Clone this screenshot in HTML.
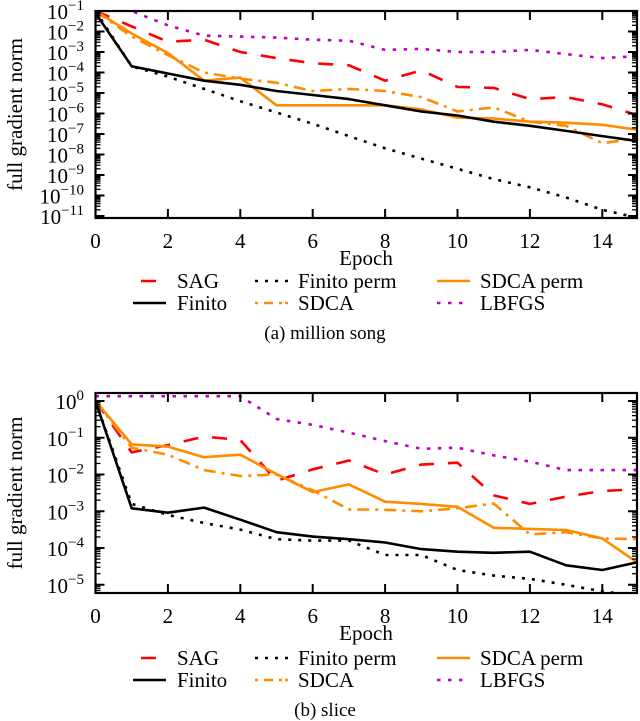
<!DOCTYPE html>
<html><head><meta charset="utf-8"><style>
html,body{margin:0;padding:0;background:#fff;}
svg{display:block;font-family:"Liberation Serif",serif;}
</style></head><body>
<svg id="s" width="640" height="721" viewBox="0 0 640 721" xmlns="http://www.w3.org/2000/svg"></svg>
<script>
const epochs=[0,1,2,3,4,5,6,7,8,9,10,11,12,13,14,15];
const xTicks=[0,2,4,6,8,10,12,14];
// chart (a) million song, values are log10(norm)
const aSAG=[-1.0,-1.75,-2.5,-2.4,-3.0,-3.3,-3.55,-3.65,-4.4,-3.9,-4.7,-4.75,-5.3,-5.2,-5.55,-6.1];
const aFinito=[-1.1,-3.7,-4.05,-4.4,-4.6,-4.9,-5.1,-5.3,-5.6,-5.9,-6.1,-6.4,-6.6,-6.85,-7.1,-7.35];
const aFinitoPerm=[-1.0,-3.7,-4.2,-4.8,-5.4,-5.95,-6.5,-7.1,-7.7,-8.2,-8.7,-9.2,-9.6,-10.1,-10.7,-11.1];
const aSDCAperm=[-1.0,-2.1,-3.05,-4.4,-4.25,-5.6,-5.6,-5.6,-5.6,-5.8,-6.2,-6.25,-6.4,-6.45,-6.55,-6.8];
const aSDCA=[-1.0,-2.25,-3.15,-4.0,-4.3,-4.5,-4.9,-4.8,-4.9,-5.2,-5.9,-5.7,-6.4,-6.6,-7.45,-7.2];
const aLBFGS=[0.0,-1.0,-1.7,-2.2,-2.25,-2.3,-2.4,-2.45,-2.9,-2.85,-3.0,-3.0,-2.9,-3.1,-3.3,-3.2];
const aYTicks=[-1,-2,-3,-4,-5,-6,-7,-8,-9,-10,-11];
// chart (b) slice
const bSAG=[0.0,-1.4,-1.2,-0.97,-1.06,-2.17,-1.86,-1.62,-2.0,-1.73,-1.68,-2.57,-2.8,-2.6,-2.45,-2.4];
const bFinito=[0.0,-2.92,-3.04,-2.9,-3.23,-3.57,-3.69,-3.76,-3.85,-4.03,-4.1,-4.13,-4.1,-4.47,-4.6,-4.38];
const bFinitoPerm=[0.0,-2.8,-3.1,-3.32,-3.5,-3.76,-3.8,-3.8,-4.19,-4.19,-4.6,-4.75,-4.84,-5.0,-5.18,-5.3];
const bSDCAperm=[0.0,-1.18,-1.24,-1.53,-1.46,-1.99,-2.48,-2.27,-2.74,-2.8,-2.88,-3.45,-3.48,-3.51,-3.74,-4.42];
const bSDCA=[0.0,-1.27,-1.46,-1.88,-2.04,-2.0,-2.43,-2.95,-2.96,-3.0,-2.92,-2.79,-3.63,-3.57,-3.74,-3.76];
const bLBFGS=[0.13,0.13,0.13,0.13,0.13,-0.49,-0.65,-0.86,-1.09,-1.3,-1.27,-1.48,-1.65,-1.88,-1.88,-1.88];
const bYTicks=[0,-1,-2,-3,-4,-5];

const NS="http://www.w3.org/2000/svg";
const svg=document.getElementById('s');
function mk(tag,attrs,parent){const e=document.createElementNS(NS,tag);for(const k in attrs)e.setAttribute(k,attrs[k]);(parent||svg).appendChild(e);return e;}
const styles={
 SAG:{stroke:'#ff0000',dash:'15 14'},
 Finito:{stroke:'#000000',dash:''},
 FinitoPerm:{stroke:'#000000',dash:'3 7'},
 SDCAperm:{stroke:'#ff8c00',dash:''},
 SDCA:{stroke:'#ff8c00',dash:'12 6 3 6'},
 LBFGS:{stroke:'#c000c0',dash:'3.5 7.5'}
};
function chart(cfg){
 const g=mk('g',{});
 
 
 const x=e=>95.5+36.2*e;
 const y=v=>cfg.y0+(cfg.ymaxLog-v)*cfg.dec;
 const L=95.5,R=637,T=cfg.top,B=cfg.bottom;
 const clipId='c'+cfg.name;
 const cp=mk('clipPath',{id:clipId},g);mk('rect',{x:L,y:T,width:R-L,height:B-T},cp);
 const sg=mk('g',{'clip-path':'url(#'+clipId+')'},g);
 const series=[['LBFGS',cfg.d.LBFGS],['SAG',cfg.d.SAG],['SDCA',cfg.d.SDCA],['SDCAperm',cfg.d.SDCAperm],['FinitoPerm',cfg.d.FinitoPerm],['Finito',cfg.d.Finito]];
 series.forEach(([k,arr])=>{
  const st=styles[k];
  const p=mk('polyline',{points:arr.map((v,i)=>x(epochs[i]).toFixed(1)+','+y(v).toFixed(1)).join(' '),fill:'none',stroke:st.stroke,'stroke-width':2.6,'stroke-dasharray':st.dash,'stroke-linejoin':'round'},sg);
  
  
 });
 const fr=mk('rect',{x:L,y:T,width:R-L,height:B-T,fill:'none',stroke:'#000','stroke-width':2.2},g);
 
 
 xTicks.forEach(t=>{
  mk('line',{x1:x(t),x2:x(t),y1:B,y2:B-9,stroke:'#000','stroke-width':2},g);
  mk('line',{x1:x(t),x2:x(t),y1:T,y2:T+9,stroke:'#000','stroke-width':2},g);
  const tx=mk('text',{x:x(t),y:B+30,'text-anchor':'middle','font-size':21},g);
  tx.textContent=t;
  
  
 });
 const lo=Math.floor(cfg.ymaxLog-(B-T)/cfg.dec)-1;
 for(let dd=lo;dd<=1;dd++){
  for(let m=1;m<10;m++){
   const yy=y(dd+Math.log10(m));
   if(yy<T-0.5||yy>B+0.5)continue;
   const len=m===1?9:5;
   mk('line',{x1:L,x2:L+len,y1:yy,y2:yy,stroke:'#000','stroke-width':m===1?2:1.3},g);
   mk('line',{x1:R,x2:R-len,y1:yy,y2:yy,stroke:'#000','stroke-width':m===1?2:1.3},g);
  }
 }
 cfg.yt.forEach(t=>{
  const tx=mk('text',{x:cfg.labelX,y:y(t)+8,'text-anchor':'end','font-size':21},g);
  
  
  const b=mk('tspan',{},tx);b.textContent='10';
  const sp=mk('tspan',{dy:-9,'font-size':15},tx);sp.textContent=(t<0?'\u2212'+(-t):''+t);
 });
 const yl=mk('text',{x:0,y:0,'text-anchor':'middle','font-size':21,transform:'translate(22,'+((T+B)/2)+') rotate(-90)'},g);
 yl.textContent='full gradient norm';
 
 
 const xl=mk('text',{x:366,y:B+47,'text-anchor':'middle','font-size':21},g);
 xl.textContent='Epoch';
 
 
 const lg=mk('g',{},g);
 
 
 const ents=[['SAG','SAG',0,0],['FinitoPerm','Finito perm',1,0],['SDCAperm','SDCA perm',2,0],['Finito','Finito',0,1],['SDCA','SDCA',1,1],['LBFGS','LBFGS',2,1]];
 const sx=[133,255,437],tx0=[177,298,480];
 ents.forEach(([k,lab,c,r])=>{
  const yy=cfg.legY+r*22;
  const st=styles[k];
  const ln=mk('line',{x1:sx[c],x2:sx[c]+33,y1:yy,y2:yy,stroke:st.stroke,'stroke-width':2.6,'stroke-dasharray':k==='SAG'?'0 8 15 20':(k==='SDCA'?'3 6 9 6 3':st.dash)},lg);
  
  
  const t=mk('text',{x:tx0[c],y:yy+7,'font-size':21},lg);
  t.textContent=lab;
  
  
 });
 const cap=mk('text',{x:325,y:cfg.capY,'text-anchor':'middle','font-size':19},g);
 cap.textContent=cfg.caption;
 
 
}
chart({name:'chart-million-song',top:11,bottom:218,y0:11,ymaxLog:-1,dec:20.5,labelX:84,yt:aYTicks,legY:281,capY:339,caption:'(a) million song',
 d:{SAG:aSAG,Finito:aFinito,FinitoPerm:aFinitoPerm,SDCAperm:aSDCAperm,SDCA:aSDCA,LBFGS:aLBFGS}});
chart({name:'chart-slice',top:393,bottom:593,y0:401,ymaxLog:0,dec:36.75,labelX:84,yt:bYTicks,legY:658,capY:716,caption:'(b) slice',
 d:{SAG:bSAG,Finito:bFinito,FinitoPerm:bFinitoPerm,SDCAperm:bSDCAperm,SDCA:bSDCA,LBFGS:bLBFGS}});
</script>
</body></html>
